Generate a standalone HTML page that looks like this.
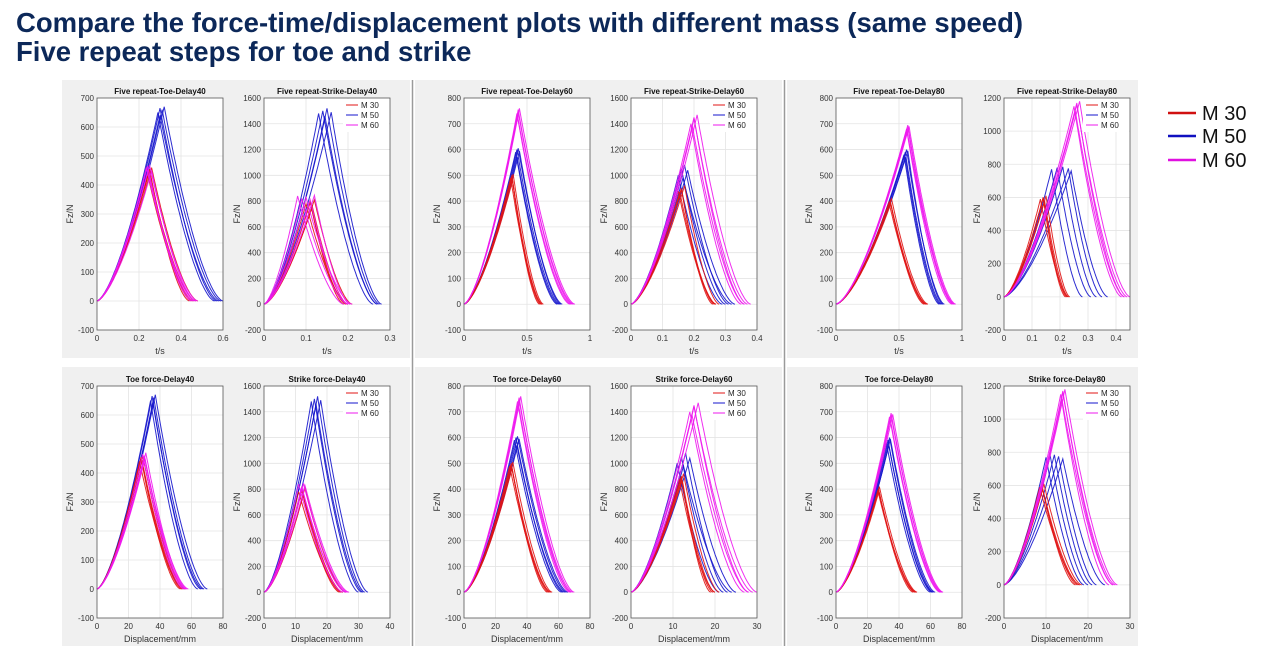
<!DOCTYPE html>
<html><head><meta charset="utf-8"><style>
html,body{margin:0;padding:0;background:#fff;width:1264px;height:655px;overflow:hidden}
svg{display:block}
text{font-family:"Liberation Sans",sans-serif}
</style></head><body>
<svg id="s" width="1264" height="655" xmlns="http://www.w3.org/2000/svg">
<text x="16" y="32" font-size="27.5" font-weight="bold" fill="#0c2859">Compare the force-time/displacement plots with different mass (same speed)</text>
<text x="16" y="61" font-size="27.5" font-weight="bold" fill="#0c2859">Five repeat steps for toe and strike</text>
<g>
<line x1="1168" y1="113" x2="1196" y2="113" stroke="#d01010" stroke-width="2.5"/><text x="1202" y="120" font-size="20" fill="#111">M 30</text>
<line x1="1168" y1="136" x2="1196" y2="136" stroke="#1010c0" stroke-width="2.5"/><text x="1202" y="143" font-size="20" fill="#111">M 50</text>
<line x1="1168" y1="160" x2="1196" y2="160" stroke="#e010e0" stroke-width="2.5"/><text x="1202" y="167" font-size="20" fill="#111">M 60</text>
</g>
</svg>
<script>
// ---- data ----
const titles = ["Five repeat-Toe-Delay40","Five repeat-Strike-Delay40","Five repeat-Toe-Delay60","Five repeat-Strike-Delay60","Five repeat-Toe-Delay80","Five repeat-Strike-Delay80",
"Toe force-Delay40","Strike force-Delay40","Toe force-Delay60","Strike force-Delay60","Toe force-Delay80","Strike force-Delay80"];
const xTicks = [[0,0.2,0.4,0.6],[0,0.1,0.2,0.3],[0,0.5,1],[0,0.1,0.2,0.3,0.4],[0,0.5,1],[0,0.1,0.2,0.3,0.4],
[0,20,40,60,80],[0,10,20,30,40],[0,20,40,60,80],[0,10,20,30],[0,20,40,60,80],[0,10,20,30]];
const xMax = [0.6,0.3,1,0.4,1,0.45,80,40,80,30,80,30];
const yRange = [[-100,700,100],[-200,1600,200],[-100,800,100],[-200,1600,200],[-100,800,100],[-200,1200,200],
[-100,700,100],[-200,1600,200],[-100,800,100],[-200,1600,200],[-100,800,100],[-200,1200,200]];
const m30PeakX = [[.25,.24,.26,.25,.245],[.11,.10,.12,.11,.115],[.38,.37,.39,.38,.385],[.16,.15,.17,.16,.155],[.43,.42,.44,.43,.435],[.14,.13,.15,.14,.145],
[28,27,29,28,28.5],[12,11,13,12,12.5],[30,29,31,30,30.5],[12,11.5,12.5,12,12.2],[27,26.5,27.5,27,27.2],[9,8.5,9.5,9,9.2]];
const m30PeakY = [[450,440,460,455,445],[800,780,810,790,760],[500,490,505,495,480],[900,880,920,890,870],[400,395,410,400,390],[600,590,610,600,580],
[450,440,460,455,445],[800,780,810,790,760],[500,490,505,495,480],[900,880,920,890,870],[400,395,410,400,390],[600,590,610,600,580]];
const m30End = [[.45,.46,.48,.44,.47],[.19,.20,.21,.195,.20],[.60,.62,.63,.61,.62],[.26,.27,.28,.265,.27],[.70,.72,.73,.71,.72],[.22,.23,.235,.225,.23],
[53,55,56,54,55],[24,25,26,24.5,25],[53,55,56,54,55],[19,20,21,19.5,20],[49,51,51.5,50,50.5],[17,18,18.5,17.5,18]];
const m50PeakX = [[.29,.30,.31,.32,.30],[.13,.14,.15,.16,.145],[.41,.42,.43,.44,.42],[.15,.16,.17,.18,.165],[.54,.55,.56,.57,.55],[.17,.19,.21,.23,.24],
[34,35,36,37,35.5],[15,16,17,18,16.5],[32,33,34,35,33.5],[11,12,13,14,12.5],[32,33,34,34.5,33.5],[10,11,12,13,14]];
const m50PeakY = [[650,665,660,670,640],[1480,1500,1520,1490,1460],[590,600,605,595,570],[1000,1050,1080,1040,980],[580,590,600,595,570],[770,780,785,775,760],
[650,665,660,670,640],[1480,1500,1520,1490,1460],[590,600,605,595,570],[1000,1050,1080,1040,980],[580,590,600,595,570],[770,780,785,775,760]];
const m50End = [[.56,.57,.59,.60,.58],[.26,.27,.275,.28,.27],[.74,.76,.78,.77,.75],[.29,.30,.31,.33,.32],[.82,.84,.86,.85,.83],[.28,.31,.33,.35,.37],
[64,66,68,70,67],[30,31,32,33,31.5],[62,63,65,66,64],[21,22,23,25,24],[60,61,62,63,61.5],[19,20,21,22,24]];
const m60PeakX = [[.24,.235,.25,.245,.26],[.08,.09,.10,.11,.12],[.42,.43,.44,.43,.425],[.19,.20,.21,.20,.195],[.56,.57,.58,.57,.565],[.25,.26,.27,.26,.255],
[29,30,31,30,30.5],[11,12,13,12,12.5],[34,35,36,35,34.5],[14,15,16,15,14.5],[34,35,36,35,34.5],[13.5,14,14.5,14,13.8]];
const m60PeakY = [[465,460,470,455,450],[840,820,830,810,845],[740,755,760,745,730],[1400,1450,1470,1440,1380],[680,695,690,685,670],[1150,1170,1180,1160,1120],
[465,460,470,455,450],[840,820,830,810,845],[740,755,760,745,730],[1400,1450,1470,1440,1380],[680,695,690,685,670],[1150,1170,1180,1160,1120]];
const m60End = [[.46,.47,.48,.45,.47],[.19,.20,.21,.20,.205],[.84,.86,.88,.87,.85],[.35,.36,.38,.37,.36],[.92,.94,.95,.93,.94],[.42,.43,.45,.44,.43],
[55,56,57,58,56.5],[25,26,27,26,26.5],[67,68,70,69,68],[27,28,30,29,28],[66,67,68,67.5,66.5],[25,26,27,26.5,26]];
const legendLabels = ["M 30","M 50","M 60"];
const colors = ["#e01515","#1515cc","#ee18ee"];

// ---- layout ----
const NS="http://www.w3.org/2000/svg";
const svg=document.getElementById('s');
function mk(tag,attrs,parent){const e=document.createElementNS(NS,tag);for(const k in attrs)e.setAttribute(k,attrs[k]);(parent||svg).appendChild(e);return e;}
const panelX=[[62,410],[415,782],[787,1138]];
const panelY=[[80,358],[367,646]];
const bgG=mk('g',{});


svg.insertBefore(bgG,svg.firstChild);
for(const py of panelY)for(const px of panelX){
  mk('rect',{x:px[0],y:py[0],width:px[1]-px[0],height:py[1]-py[0],fill:'#f0f0f0'},bgG);
}
mk('line',{x1:412.5,y1:80,x2:412.5,y2:646,stroke:'#9a9a9a','stroke-width':1.5},bgG);
mk('line',{x1:784.5,y1:80,x2:784.5,y2:646,stroke:'#9a9a9a','stroke-width':1.5},bgG);

const plotLeft=[97,264,464,631,836,1004];
const plotTop=[98,386];
const W=126,H=232;
const mPX=[m30PeakX,m50PeakX,m60PeakX],mPY=[m30PeakY,m50PeakY,m60PeakY],mEX=[m30End,m50End,m60End];

for(let p=0;p<12;p++){
  const row=p<6?0:1, col=p%6;
  const x0=plotLeft[col], y0=plotTop[row];
  const [ymin,ymax,ystep]=yRange[p];
  const xs=v=>x0+v/xMax[p]*W;
  const ys=v=>y0+H-(v-ymin)/(ymax-ymin)*H;
  const g=mk('g',{});
  
  
  mk('rect',{x:x0,y:y0,width:W,height:H,fill:'#fff'},g);
  for(const t of xTicks[p]){
    const X=xs(t);
    if(t>0&&t<xMax[p]) mk('line',{x1:X,y1:y0,x2:X,y2:y0+H,stroke:'#e4e4e4','stroke-width':0.8},g);
    const tl=mk('text',{x:X,y:y0+H+11,'font-size':8,'text-anchor':'middle',fill:'#333'},g);
    tl.textContent=String(t);
    
    
  }
  for(let v=ymin;v<=ymax+1e-9;v+=ystep){
    const Y=ys(v);
    if(v>ymin&&v<ymax) mk('line',{x1:x0,y1:Y,x2:x0+W,y2:Y,stroke:'#e4e4e4','stroke-width':0.8},g);
    const tl=mk('text',{x:x0-3,y:Y+3,'font-size':8,'text-anchor':'end',fill:'#333'},g);
    tl.textContent=String(v);
    
    
  }
  for(const m of [1,0,2]){
    for(let r=0;r<5;r++){
      const px=mPX[m][p][r],py=mPY[m][p][r],ex=mEX[m][p][r];
      const pts=[];
      const N=40;
      for(let i=0;i<=N;i++){const t=px*i/N;pts.push([t,py*Math.pow(i/N,1.5)]);}
      for(let i=1;i<=N;i++){const t=px+(ex-px)*i/N;pts.push([t,py*Math.pow(1-i/N,1.6)]);}
      const d=pts.map((q,i)=>(i?'L':'M')+xs(q[0]).toFixed(1)+' '+ys(q[1]).toFixed(1)).join('');
      const path=mk('path',{d:d,fill:'none',stroke:colors[m],'stroke-width':1,'stroke-opacity':0.9},g);
      
      
    }
  }
  mk('rect',{x:x0,y:y0,width:W,height:H,fill:'none',stroke:'#555','stroke-width':0.8},g);
  const tt=mk('text',{x:x0+W/2,y:y0-4,'font-size':8,'font-weight':'bold','text-anchor':'middle',fill:'#111'},g);
  tt.textContent=titles[p];
  
  
  const xl=mk('text',{x:x0+W/2,y:y0+H+24,'font-size':9,'text-anchor':'middle',fill:'#333'},g);
  xl.textContent=row===0?'t/s':'Displacement/mm';
  
  
  const yl=mk('text',{x:0,y:0,'font-size':9,'text-anchor':'middle',fill:'#333',transform:`translate(${x0-24},${y0+H/2}) rotate(-90)`},g);
  yl.textContent='Fz/N';
  
  
  if(col%2===1){
    const lg=mk('g',{},g);
    
    
    mk('rect',{x:x0+W-47,y:y0+1,width:46,height:33,fill:'#fff'},lg);
    for(let m=0;m<3;m++){
      const yy=y0+7+m*10;
      mk('line',{x1:x0+W-44,y1:yy,x2:x0+W-32,y2:yy,stroke:colors[m],'stroke-width':1},lg);
      const lt=mk('text',{x:x0+W-29,y:yy+3,'font-size':8,fill:'#222'},lg);
      lt.textContent=legendLabels[m];
    }
  }
}
</script>
</body></html>
